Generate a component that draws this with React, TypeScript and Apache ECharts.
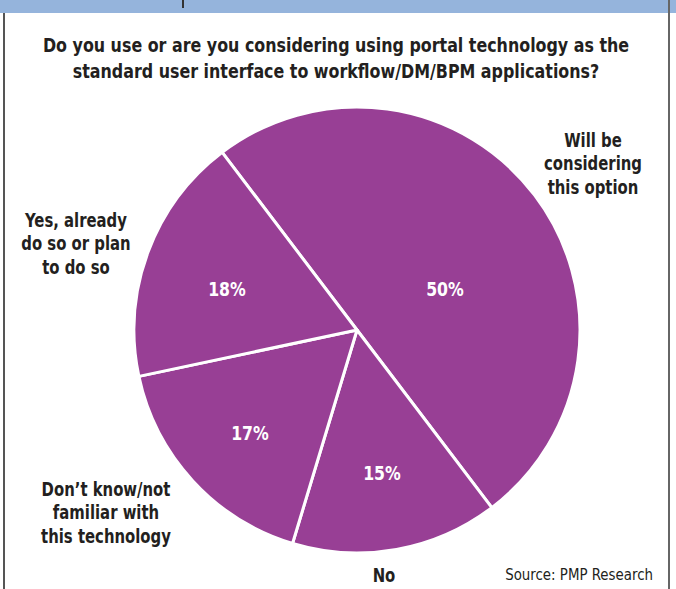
import React, { useEffect, useRef } from "react";
import * as echarts from "echarts";

const categories = [
  "Will be considering this option",
  "No",
  "Don't know/not familiar with this technology",
  "Yes, already do so or plan to do so",
];
const values = [50, 15, 17, 18];
const valueLabelPos = [
  [445, 289],
  [382, 473],
  [250, 433],
  [227, 289],
];
const outerLines = [
  ["Will be", "considering", "this option"],
  ["No"],
  ["Don\u2019t know/not", "familiar with", "this technology"],
  ["Yes, already", "do so or plan", "to do so"],
];
const outerPos = [
  [593, 140],
  [384, 575],
  [106, 489],
  [76, 220],
];
const titleLines = [
  "Do you use or are you considering using portal technology as the",
  "standard user interface to workflow/DM/BPM applications?",
];
const FONT = "'Liberation Sans Narrow', 'DejaVu Sans Condensed', Arial, sans-serif";

export default function App() {
  const ref = useRef<HTMLDivElement>(null);
  useEffect(() => {
    const chart = echarts.init(ref.current!, null, { renderer: "svg" });
    const graphics: any[] = [
      { type: "rect", shape: { x: 0, y: 0, width: 676, height: 13 }, style: { fill: "#95b4dc" }, silent: true },
      { type: "rect", shape: { x: 182, y: 0, width: 2, height: 8 }, style: { fill: "#333" } },
      { type: "rect", shape: { x: 3, y: 13, width: 2, height: 576 }, style: { fill: "#555" } },
      { type: "rect", shape: { x: 668, y: 0, width: 2, height: 589 }, style: { fill: "#666" } },
    ];
    titleLines.forEach((t, i) => {
      graphics.push({
        type: "text",
        x: 336,
        y: 45 + i * 26,
        scaleX: 0.93,
        style: { text: t, font: `bold 19px ${FONT}`, fill: "#231f20", align: "center", verticalAlign: "middle" },
      });
    });
    values.forEach((v, i) => {
      graphics.push({
        type: "text",
        x: valueLabelPos[i][0],
        y: valueLabelPos[i][1],
        z: 10,
        scaleX: 0.92,
        style: { text: `${v}%`, font: `bold 19px ${FONT}`, fill: "#ffffff", align: "center", verticalAlign: "middle" },
      });
      outerLines[i].forEach((l, j) => {
        graphics.push({
          type: "text",
          x: outerPos[i][0],
          y: outerPos[i][1] + j * 23.5,
          scaleX: 0.87,
          style: { text: l, font: `bold 19px ${FONT}`, fill: "#231f20", align: "center", verticalAlign: "middle" },
        });
      });
    });
    graphics.push({
      type: "text",
      x: 653,
      y: 575,
      scaleX: 0.93,
      style: { text: "Source: PMP Research", font: `16px ${FONT}`, fill: "#231f20", align: "right", verticalAlign: "middle" },
    });
    chart.setOption({
      animation: false,
      backgroundColor: "#ffffff",
      graphic: graphics,
      series: [
        {
          type: "pie",
          center: [357, 330],
          radius: 223,
          startAngle: 127.2,
          clockwise: true,
          label: { show: false },
          labelLine: { show: false },
          itemStyle: { color: "#983f95", borderColor: "#ffffff", borderWidth: 3 },
          emphasis: { disabled: true },
          data: categories.map((c, i) => ({ name: c, value: values[i] })),
        },
      ],
    });
    return () => chart.dispose();
  }, []);
  return <div ref={ref} style={{ position: "fixed", left: 0, top: 0, width: 676, height: 589 }} />;
}
